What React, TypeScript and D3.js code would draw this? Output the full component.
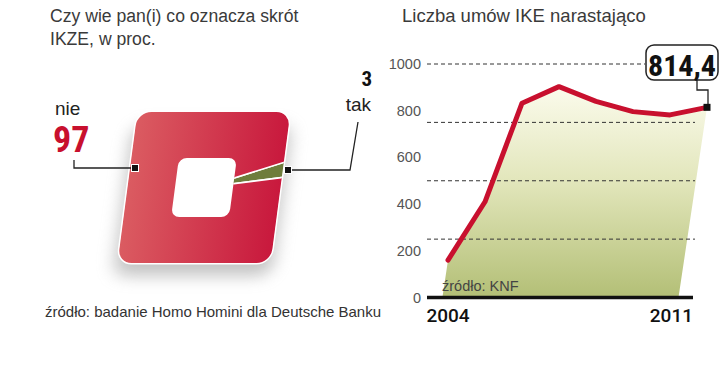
import React from 'react';
import * as d3 from 'd3';

// dane
const years = [2004, 2005, 2006, 2007, 2008, 2009, 2010, 2011];
const contracts = [160, 410, 832, 903, 840, 796, 782, 814.4]; // tys. umów IKE
const yTickValues = [0, 200, 400, 600, 800, 1000];
const gridValues = [250, 500, 750, 1000];
const answers = ['tak', 'nie'];
const shares = [3, 97];

const FONT = '"Liberation Sans", Arial, sans-serif';
const NARROW = '"Liberation Sans Narrow", "Roboto Condensed", "Arial Narrow", sans-serif';
const RED = '#c8102e';

// zaokraglony prostokat jako path
function rr(x: number, y: number, w: number, h: number, r: number) {
  return `M${x + r},${y}H${x + w - r}A${r},${r} 0 0 1 ${x + w},${y + r}V${y + h - r}A${r},${r} 0 0 1 ${x + w - r},${y + h}H${x + r}A${r},${r} 0 0 1 ${x},${y + h - r}V${y + r}A${r},${r} 0 0 1 ${x + r},${y}Z`;
}

export default function App() {
  const x = d3.scaleLinear().domain([2004, 2011]).range([448, 707]);
  const y = d3.scaleLinear().domain([0, 1000]).range([297.5, 64]);
  const slant = 0.15;

  const pts = years.map((yr, i) => ({ yr, v: contracts[i] }));
  const line = d3.line<{ yr: number; v: number }>()
    .x(d => x(d.yr))
    .y(d => y(d.v));
  const area = d3.area<{ yr: number; v: number }>()
    .x1(d => x(d.yr))
    .y1(d => y(d.v))
    .x0(d => x(d.yr) - slant * (y(0) - y(d.v)))
    .y0(y(0));

  const last = pts[pts.length - 1];
  const lx = x(last.yr);
  const ly = y(last.v);

  // kwadratowy "donut"
  const pie = d3.pie<number>().sort(null).startAngle(1.253).endAngle(1.253 + 2 * Math.PI);
  const arcs = pie(shares);
  const arc = d3.arc<d3.PieArcDatum<number>>().innerRadius(0).outerRadius(150);
  const outer = rr(-76.5, -75.5, 153, 151, 14);
  const hole = rr(-29, -29.5, 58, 59, 8);
  const sliceColor: Record<string, string> = { nie: 'url(#redGrad)', tak: '#6e7d3c' };

  return (
    <div style={{ position: 'absolute', left: 0, top: 0 }}>
      <svg width={720} height={385} style={{ display: 'block', background: '#fff' }}>
        <defs>
          <linearGradient id="redGrad" gradientUnits="userSpaceOnUse" x1={-80} y1={0} x2={80} y2={0}>
            <stop offset="0" stopColor="#db5d62" />
            <stop offset="1" stopColor="#c8173c" />
          </linearGradient>
          <linearGradient id="greenGrad" x1="0" y1="0" x2="0" y2="1">
            <stop offset="0" stopColor="#fbfbec" />
            <stop offset="0.45" stopColor="#e2e6bb" />
            <stop offset="1" stopColor="#b3bf76" />
          </linearGradient>
          <filter id="blur" x="-40%" y="-40%" width="180%" height="180%">
            <feGaussianBlur stdDeviation="8" />
          </filter>
          <clipPath id="ring">
            <path d={outer + hole} clipRule="evenodd" />
          </clipPath>
        </defs>

        {/* lewy panel */}
        <g fontFamily={FONT} fill="#3a3a3a">
          <text x={50} y={22} fontSize={17.6}>Czy wie pan(i) co oznacza skrót</text>
          <text x={50} y={45} fontSize={17.6}>IKZE, w proc.</text>
        </g>

        <g transform="translate(204,187.5) skewX(-7.5)">
          <path d={outer} transform="translate(0,13) scale(1.04,1)" fill="#8a8a8a" opacity={0.5} filter="url(#blur)" />
          <path d={outer} fill="#fff" stroke="#fff" strokeWidth={3} />
          <g clipPath="url(#ring)">
            {arcs.map((a, i) => (
              <path key={answers[i]} d={arc(a) || ''} fill={sliceColor[answers[i]]} stroke="#fff" strokeWidth={1.6} />
            ))}
          </g>
        </g>

        <g fontFamily={FONT}>
          <text x={55} y={115} fontSize={19} fill="#222">{answers[1]}</text>
          <text x={53} y={152} fontSize={36} fontWeight="bold" fontFamily={NARROW} fill={RED}>{shares[1]}</text>
          <text x={372} y={86} fontSize={21} fontWeight="bold" fontFamily={NARROW} fill="#111" textAnchor="end">{shares[0]}</text>
          <text x={371} y={111} fontSize={19} fill="#222" textAnchor="end">{answers[0]}</text>
        </g>
        <polyline points="74,160 74,168 131,168" fill="none" stroke="#222" strokeWidth={1.3} />
        <rect x={131.5} y={164.5} width={7} height={7} fill="#111" stroke="#fff" strokeWidth={1} />
        <polyline points="358,122 350,170 292,170" fill="none" stroke="#222" strokeWidth={1.3} />
        <rect x={284.5} y={166.5} width={7} height={7} fill="#111" stroke="#fff" strokeWidth={1} />

        <text x={45} y={317} fontFamily={FONT} fontSize={15} fill="#333">
          źródło: badanie Homo Homini dla Deutsche Banku
        </text>

        {/* prawy panel */}
        <text x={402} y={22} fontFamily={FONT} fontSize={18.5} fill="#3a3a3a">Liczba umów IKE narastająco</text>

        <path d={area(pts) || ''} fill="url(#greenGrad)" />

        {gridValues.map(v => (
          <line key={v} x1={427} x2={v === 1000 ? 645 : 695} y1={y(v)} y2={y(v)}
            stroke="#333" strokeWidth={1} strokeDasharray="4,3" />
        ))}

        {yTickValues.map(v => (
          <text key={v} x={421} y={y(v) + 5} fontFamily={FONT} fontSize={14.5} fill="#555" textAnchor="end">{v}</text>
        ))}

        <text x={442} y={291} fontFamily={FONT} fontSize={14.5} fill="#444">źródło: KNF</text>

        <path d={line(pts) || ''} fill="none" stroke={RED} strokeWidth={5} strokeLinejoin="round" strokeLinecap="round" />

        <line x1={427} x2={693} y1={y(0)} y2={y(0)} stroke="#111" strokeWidth={3.5} />
        <text x={x(years[0])} y={322} fontFamily="Roboto, sans-serif" fontWeight={500} fontSize={19} fill="#111" textAnchor="middle">{years[0]}</text>
        <text x={693} y={322} fontFamily="Roboto, sans-serif" fontWeight={500} fontSize={19} fill="#111" textAnchor="end">{years[years.length - 1]}</text>

        {/* dymek z ostatnia wartoscia */}
        <polyline points={`697,80 697,90 ${lx + 1},90 ${lx + 1},${ly - 3}`} fill="none" stroke="#222" strokeWidth={1.3} />
        <rect x={646} y={45} width={72} height={35} rx={8} fill="#fff" stroke="#222" strokeWidth={1.5} />
        <text x={682} y={76} fontFamily={NARROW} fontWeight="bold" fontSize={30} fill="#111" textAnchor="middle">
          {String(last.v).replace('.', ',')}
        </text>
        <rect x={lx - 3.5} y={ly - 3.5} width={7} height={7} fill="#111" />
      </svg>
    </div>
  );
}
